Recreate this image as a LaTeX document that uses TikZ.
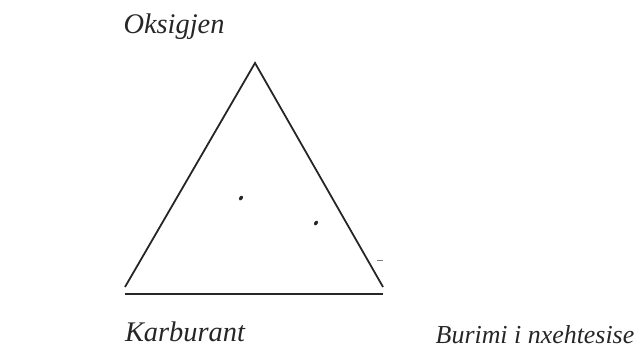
\documentclass[tikz,border=0pt]{standalone}
\usepackage{fontspec}
\setmainfont{Liberation Serif}
\begin{document}
\begin{tikzpicture}[x=1bp,y=-1bp,
  side/.style={line width=1.8bp,black!85},
  lbl/.style={font=\fontsize{26}{30}\selectfont\itshape,text=black!85,inner sep=0pt,anchor=base},
  biglbl/.style={lbl,font=\fontsize{28.5}{32}\selectfont\itshape},
  dotmark/.style={fill=black!85,draw=none}]
\useasboundingbox (0,0) rectangle (634,351);
\coordinate (A) at (255,63);
\coordinate (L) at (125,287);
\coordinate (R) at (383,287);
\coordinate (BL) at (125,294);
\coordinate (BR) at (383,294);
\coordinate (T1) at (377,260);
\coordinate (T2) at (383,260);
\draw[side,line join=miter] (L) -- (A) -- (R);
\draw[side,line width=2.1bp] (BL) -- (BR);
\draw[line width=0.6bp,black!50] (T1) -- (T2);
\fill[dotmark,rotate around={60:(241,198)}] (241,198) ellipse (2.6 and 1.8);
\fill[dotmark,rotate around={60:(316,223)}] (316,223) ellipse (2.6 and 1.8);
\node[biglbl] (oks) at (174,33) {Oksigjen};
\node[biglbl] (kar) at (185,341) {Karburant};
\node[lbl] (bur) at (535,343) {Burimi i nxehtesise};
\end{tikzpicture}
\end{document}
